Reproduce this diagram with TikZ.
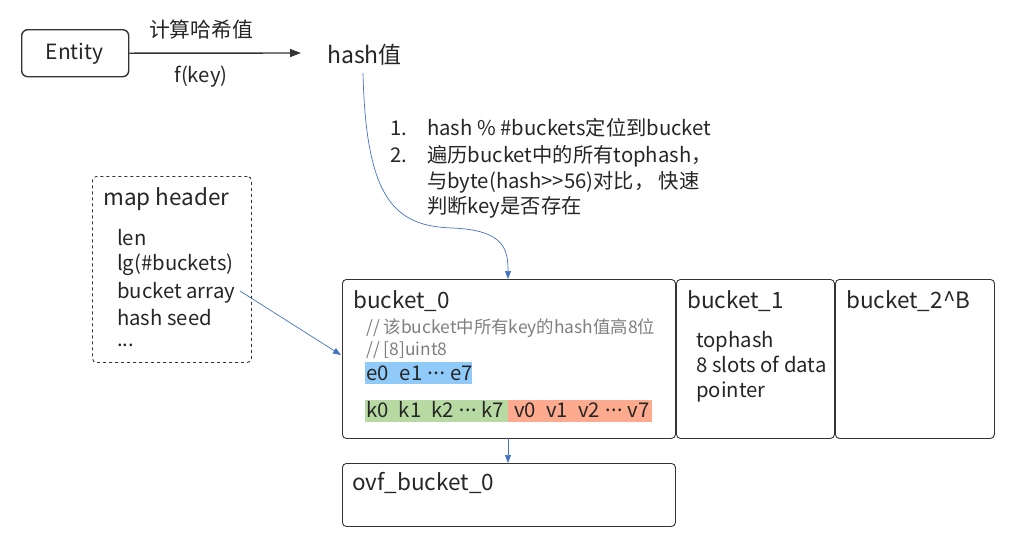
\documentclass[tikz,border=0pt]{standalone}
\usepackage{fontspec}
\setmainfont{Noto Sans CJK SC}
\newfontfamily\latf{Noto Sans}
\usetikzlibrary{arrows.meta}
\definecolor{txt}{HTML}{262626}
\definecolor{edge}{HTML}{333333}
\definecolor{link}{HTML}{4472C4}
\definecolor{cmt}{HTML}{7F7F7F}
\definecolor{barblue}{HTML}{90CAF9}
\definecolor{bargreen}{HTML}{B7D9A2}
\definecolor{barred}{HTML}{FDAA8E}
\newcommand{\mdots}{\hspace{0.25em}{\latf ·\kern0.6pt·\kern0.6pt·}\hspace{0.25em}}
\tikzset{
  boxx/.style={draw=edge, line width=0.9pt, rounded corners=4pt, anchor=north west, inner sep=0pt},
  lbl/.style={anchor=base west, inner sep=0pt, text=txt},
  bigtxt/.style={lbl, font=\fontsize{22.5}{26}\selectfont},
  midtxt/.style={lbl, font=\fontsize{20.3}{24}\selectfont},
  cmtxt/.style={lbl, text=cmt, font=\fontsize{17.4}{20}\selectfont},
  barr/.style={anchor=north west, inner sep=0pt, draw=none},
  blink/.style={draw=link, line width=0.7pt, -{Triangle[length=8pt,width=6pt]}},
}
\begin{document}
\begin{tikzpicture}[x=1pt,y=-1pt]
\useasboundingbox (0,0) rectangle (1034,542);
% Entity
\node[boxx, line width=1.4pt, rounded corners=6pt, minimum width=107pt, minimum height=47pt] (entity) at (21,29) {};
\node[anchor=center, inner sep=0pt, text=txt, font=\fontsize{21}{25}\selectfont] (entityt) at (74.5,54) {Entity};
\node[anchor=base, inner sep=0pt, text=txt, font=\fontsize{20.8}{24}\selectfont] (calc) at (201,37) {计算哈希值};
\node[anchor=base, inner sep=0pt, text=txt, font=\fontsize{20.3}{24}\selectfont] (fkey) at (201,82) {f(key)};
\node[lbl, font=\fontsize{23}{27}\selectfont] (hash) at (327,63) {hash值};
\coordinate (hashin) at (301,53);
\draw[draw=edge, line width=1.4pt, -{Triangle[length=11pt,width=8pt]}] (entity.east) -- (hashin);
% numbered notes
\node[midtxt] (n1) at (390,135) {1.};
\node[midtxt] (t1) at (427,135) {hash \% \#buckets定位到bucket};
\node[midtxt] (n2) at (390,162) {2.};
\node[midtxt] (t2) at (427,162) {遍历bucket中的所有tophash，};
\node[midtxt] (t3) at (427,188) {与byte(hash>{}>56)对比， 快速};
\node[midtxt] (t4) at (427,213) {判断key是否存在};
% map header
\node[boxx, dashed, line width=0.9pt, minimum width=159pt, minimum height=186pt] (mh) at (92,176) {};
\node[bigtxt] (mht) at (103,205) {map header};
\node[midtxt] (m1) at (117,245) {len};
\node[midtxt] (m2) at (117,270) {lg(\#buckets)};
\node[midtxt] (m3) at (117,298) {bucket array};
\node[midtxt] (m4) at (117,325) {hash seed};
\node[midtxt] (m5) at (117,346) {...};
% buckets
\node[boxx, minimum width=333pt, minimum height=159pt] (b0) at (342,279) {};
\node[boxx, minimum width=158pt, minimum height=159pt] (b1) at (676,279) {};
\node[boxx, minimum width=159pt, minimum height=159pt] (b2) at (835,279) {};
\node[boxx, minimum width=333pt, minimum height=63pt] (ovf) at (342,463) {};
\node[bigtxt] (b0t) at (353,308) {bucket\_0};
\node[cmtxt] (c1) at (366,333) {// 该bucket中所有key的hash值高8位};
\node[cmtxt] (c2) at (366,355) {// [8]uint8};
\node[barr, fill=barblue, minimum width=107pt, minimum height=22pt] (eb) at (365,362) {};
\node[barr, fill=bargreen, minimum width=143pt, minimum height=22pt] (kb) at (365,400) {};
\node[barr, fill=barred, minimum width=144pt, minimum height=22pt] (vb) at (508,400) {};
\node[midtxt] (et) at (366,380) {e0\hspace{0.55em}e1\mdots e7};
\node[midtxt] (kt) at (366,417) {k0\hspace{0.5em}k1\hspace{0.5em}k2\mdots k7};
\node[midtxt] (vt) at (514,417) {v0\hspace{0.5em}v1\hspace{0.5em}v2\mdots v7};
\node[bigtxt] (b1t) at (687,308) {bucket\_1};
\node[midtxt] (b1a) at (696,347) {tophash};
\node[midtxt] (b1b) at (696,372) {8 slots of data};
\node[midtxt] (b1c) at (696,397) {pointer};
\node[bigtxt] (b2t) at (846,308) {bucket\_2\textasciicircum B};
\node[bigtxt] (ovft) at (352,490) {ovf\_bucket\_0};
% connectors
\coordinate (arr) at (240,291);
\coordinate (b0in) at (341,355);
\coordinate (hashout) at (363,73);
\coordinate (b0top) at (508,279);
\coordinate (b0bot) at (508,438);
\coordinate (ovftop) at (508,463);
\draw[blink] (arr) -- (b0in);
\draw[blink] (b0bot) -- (ovftop);
\draw[blink] (hashout) .. controls (366,200) and (395,226) .. (452,228) .. controls (505,230) and (508,250) .. (b0top);
\end{tikzpicture}
\end{document}
